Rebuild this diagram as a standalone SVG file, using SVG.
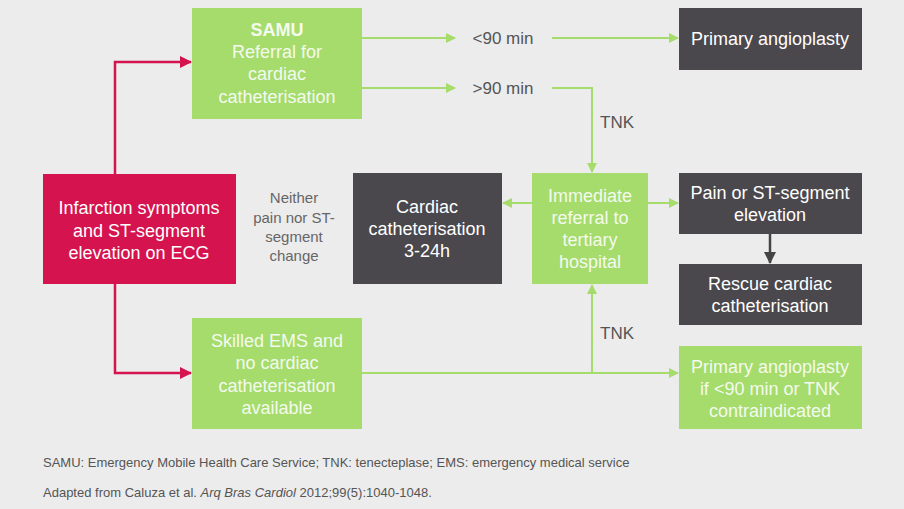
<svg xmlns="http://www.w3.org/2000/svg" width="904" height="509" viewBox="0 0 904 509">
<defs>
<marker id="ag" markerWidth="10" markerHeight="10" refX="9" refY="5" orient="auto" markerUnits="userSpaceOnUse"><path d="M0,0 L10,5 L0,10 z" fill="#a5dc6c"/></marker>
<marker id="ar" markerWidth="12" markerHeight="12" refX="11" refY="6" orient="auto" markerUnits="userSpaceOnUse"><path d="M0,0 L12,6 L0,12 z" fill="#d4134f"/></marker>
<marker id="ad" markerWidth="12" markerHeight="12" refX="11" refY="6" orient="auto" markerUnits="userSpaceOnUse"><path d="M0,0 L12,6 L0,12 z" fill="#444"/></marker>
</defs>
<style>
.g{fill:#a5dc6c}
.r{fill:#d4134f}
.d{fill:#4b484d}
text{font-family:"Liberation Sans",Arial,sans-serif;text-anchor:middle}
.t{font-size:18px;fill:#fff}
.tg{font-size:18px;fill:#f4faee}
.l{font-size:17px;fill:#555}
.n{font-size:15px;fill:#666}
.f{font-size:13px;fill:#555;text-anchor:start}
.cg{stroke:#a5dc6c;stroke-width:2;fill:none}
.cr{stroke:#d4134f;stroke-width:2.5;fill:none}
.cd{stroke:#444;stroke-width:2.5;fill:none}
</style>
<rect width="904" height="509" fill="#ececec"/>
<g id="connectors">
<path class="cr" d="M115,174 V62 H191" marker-end="url(#ar)"/>
<path class="cr" d="M115,284 V373 H191" marker-end="url(#ar)"/>
<path class="cg" d="M362,38 H455" marker-end="url(#ag)"/>
<path class="cg" d="M552,38 H678" marker-end="url(#ag)"/>
<path class="cg" d="M362,88 H455" marker-end="url(#ag)"/>
<path class="cg" d="M552,88 H592 V172" marker-end="url(#ag)"/>
<path class="cg" d="M532,203 H503" marker-end="url(#ag)"/>
<path class="cg" d="M648,203 H678" marker-end="url(#ag)"/>
<path class="cd" d="M770,234 V263" marker-end="url(#ad)"/>
<path class="cg" d="M362,373 H678" marker-end="url(#ag)"/>
<path class="cg" d="M592,373 V285" marker-end="url(#ag)"/>
<text class="l" x="503" y="44">&lt;90 min</text>
<text class="l" x="503" y="94">&gt;90 min</text>
<text class="l" x="617" y="128">TNK</text>
<text class="l" x="617" y="339">TNK</text>
<text class="n" x="294" y="203">Neither</text>
<text class="n" x="294" y="223">pain nor ST-</text>
<text class="n" x="294" y="242">segment</text>
<text class="n" x="294" y="261">change</text>
</g>
<g id="samu">
<rect class="g" x="192" y="8" width="170" height="111"/>
<text class="tg" x="277" y="36" font-weight="bold">SAMU</text>
<text class="tg" x="277" y="58">Referral for</text>
<text class="tg" x="277" y="80">cardiac</text>
<text class="tg" x="277" y="103">catheterisation</text>
</g>
<g id="primary-top">
<rect class="d" x="679" y="8" width="183" height="62"/>
<text class="t" x="770" y="45">Primary angioplasty</text>
</g>
<g id="infarction">
<rect class="r" x="43" y="174" width="193" height="110"/>
<text class="t" x="139" y="214">Infarction symptoms</text>
<text class="t" x="139" y="237">and ST-segment</text>
<text class="t" x="139" y="259">elevation on ECG</text>
</g>
<g id="cardiac-cath">
<rect class="d" x="353" y="173" width="149" height="111"/>
<text class="t" x="427" y="213">Cardiac</text>
<text class="t" x="427" y="235">catheterisation</text>
<text class="t" x="427" y="257">3-24h</text>
</g>
<g id="immediate">
<rect class="g" x="532" y="173" width="116" height="111"/>
<text class="tg" x="590" y="202">Immediate</text>
<text class="tg" x="590" y="224">referral to</text>
<text class="tg" x="590" y="246">tertiary</text>
<text class="tg" x="590" y="268">hospital</text>
</g>
<g id="pain">
<rect class="d" x="679" y="173" width="183" height="61"/>
<text class="t" x="770" y="199">Pain or ST-segment</text>
<text class="t" x="770" y="221">elevation</text>
</g>
<g id="rescue">
<rect class="d" x="679" y="264" width="183" height="61"/>
<text class="t" x="770" y="290">Rescue cardiac</text>
<text class="t" x="770" y="312">catheterisation</text>
</g>
<g id="skilled">
<rect class="g" x="192" y="318" width="170" height="111"/>
<text class="tg" x="277" y="347">Skilled EMS and</text>
<text class="tg" x="277" y="369">no cardiac</text>
<text class="tg" x="277" y="392">catheterisation</text>
<text class="tg" x="277" y="414">available</text>
</g>
<g id="primary-bottom">
<rect class="g" x="679" y="346" width="183" height="83"/>
<text class="tg" x="770" y="373">Primary angioplasty</text>
<text class="tg" x="770" y="395">if &lt;90 min or TNK</text>
<text class="tg" x="770" y="417">contraindicated</text>
</g>
<g id="footer">
<text class="f" x="43" y="467">SAMU: Emergency Mobile Health Care Service; TNK: tenecteplase; EMS: emergency medical service</text>
<text class="f" x="43" y="497">Adapted from Caluza et al. <tspan font-style="italic">Arq Bras Cardiol</tspan> 2012;99(5):1040-1048.</text>
</g>
</svg>
